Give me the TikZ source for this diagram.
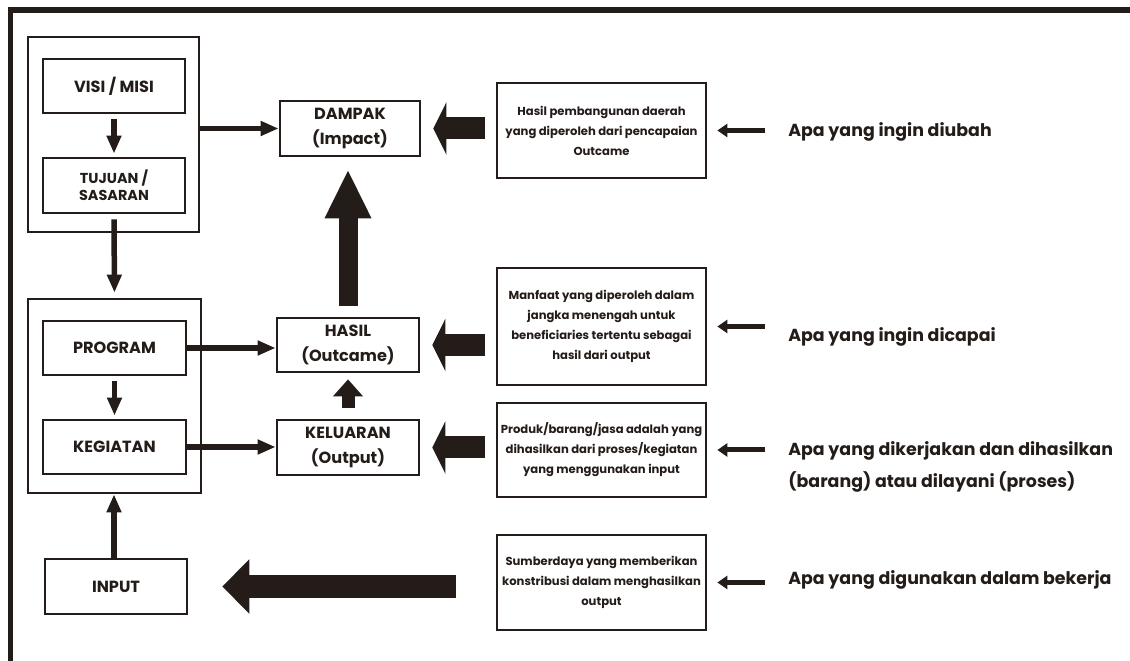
\documentclass[tikz,border=0pt]{standalone}
\usepackage{fontspec}
\setmainfont{Poppins}
\usetikzlibrary{arrows.meta}

\definecolor{ink}{RGB}{35,28,25}

\begin{document}
\begin{tikzpicture}[x=0.02cm, y=-0.02cm,
    box/.style={draw=ink, line width=0.055cm, align=center, inner sep=0pt, text=ink},
    label/.style={font=\fontsize{9.2}{14.2}\selectfont\bfseries},
    small/.style={font=\fontsize{6.6}{11.4}\selectfont\bfseries},
    note/.style={anchor=west, inner sep=0pt, align=left, text=ink,
                 font=\fontsize{9.9}{18}\selectfont\bfseries},
    thin/.style={draw=ink, line width=0.11cm, -{Triangle[length=0.36cm, width=0.28cm]}},
    tiny/.style={draw=ink, line width=0.1cm, -{Triangle[length=0.2cm, width=0.26cm]}},
    fat/.style={draw=ink, line width=0.44cm, -{Triangle[length=0.26cm, width=1.04cm]}}
  ]
  \useasboundingbox (0,0) rectangle (1130,661);

  % 1. Bingkai
  \draw[ink, line width=0.11cm] (1130,10) -- (10.5,10) -- (10.5,661);

  % 2. Kolom kiri
  \node[box, minimum width=3.42cm, minimum height=3.9cm] (grp1) at (113.5,134.5) {};
  \node[box, label, minimum width=2.84cm, minimum height=1.08cm] (visi) at (114,86) {VISI / MISI};
  \node[box, font=\fontsize{8.2}{9.8}\selectfont\bfseries, minimum width=2.84cm, minimum height=1.1cm] (tujuan) at (114,185.5) {TUJUAN /\\SASARAN};
  \node[box, minimum width=3.46cm, minimum height=3.88cm] (grp2) at (114.5,396) {};
  \node[box, label, minimum width=2.86cm, minimum height=1.08cm] (program) at (114.5,348) {PROGRAM};
  \node[box, label, minimum width=2.86cm, minimum height=1.08cm] (kegiatan) at (114.5,447) {KEGIATAN};
  \node[box, label, minimum width=2.84cm, minimum height=1.1cm] (input) at (116,586.5) {INPUT};

  % 3. Kolom tengah
  \node[box, label, minimum width=2.8cm, minimum height=1.1cm] (dampak) at (350,128.5) {DAMPAK\\(Impact)};
  \node[box, label, minimum width=2.84cm, minimum height=1.08cm] (hasil) at (348,345) {HASIL\\(Outcame)};
  \node[box, label, minimum width=2.84cm, minimum height=1.1cm] (keluaran) at (348,447.5) {KELUARAN\\(Output)};

  % 4. Keterangan
  \node[box, small, minimum width=4.18cm, minimum height=1.9cm] (d1) at (601.5,130.5)
    {Hasil pembangunan daerah\\yang diperoleh dari pencapaian\\Outcame};
  \node[box, small, minimum width=4.18cm, minimum height=2.34cm] (d2) at (601.5,326.5)
    {Manfaat yang diperoleh dalam\\jangka menengah untuk\\beneficiaries tertentu sebagai\\hasil dari output};
  \node[box, small, minimum width=4.18cm, minimum height=1.88cm] (d3) at (601.5,450)
    {Produk/barang/jasa adalah yang\\dihasilkan dari proses/kegiatan\\yang menggunakan input};
  \node[box, small, minimum width=4.18cm, minimum height=1.9cm] (d4) at (601.5,582.5)
    {Sumberdaya yang memberikan\\konstribusi dalam menghasilkan\\output};

  \node[note] (t1) at (788,132) {Apa yang ingin diubah};
  \node[note] (t2) at (788,337) {Apa yang ingin dicapai};
  \node[note] (t3) at (788,467) {Apa yang dikerjakan dan dihasilkan\\(barang) atau dilayani (proses)};
  \node[note] (t4) at (788,580) {Apa yang digunakan dalam bekerja};

  % 5. Panah
  \draw[thin, shorten <=0.1cm, shorten >=0.06cm] (visi.south) -- (tujuan.north);
  \draw[thin, shorten <=0.1cm, shorten >=0.1cm] (tujuan.south) -- (grp2.north);
  \draw[thin, shorten <=0.1cm, shorten >=0.06cm] (program.south) -- (kegiatan.north);
  \draw[thin] (grp1.east |- dampak.west) -- (dampak.west);
  \draw[thin] (program.east) -- (program.east -| hasil.west);
  \draw[thin] (kegiatan.east) -- (kegiatan.east -| keluaran.west);
  \draw[thin] (input.north -| visi.south) -- (grp2.south -| visi.south);

  \foreach \d/\c in {d1/dampak, d2/hasil, d3/keluaran}
    \draw[fat, shorten <=0.22cm, shorten >=0.24cm] (\c.east -| \d.west) -- (\c.east);

  \draw[draw=ink, line width=0.46cm, -{Triangle[length=0.54cm, width=1.06cm]},
        shorten <=0.8cm, shorten >=0.68cm] (input.east -| d4.west) -- (input.east);
  \draw[draw=ink, line width=0.38cm, -{Triangle[length=0.98cm, width=0.86cm]},
        shorten <=0.22cm, shorten >=0.24cm] (hasil.north) -- (hasil.north |- dampak.south);
  \draw[draw=ink, line width=0.26cm, -{Triangle[length=0.34cm, width=0.58cm]},
        shorten <=0.22cm, shorten >=0.12cm] (keluaran.north) -- (hasil.south);

  \foreach \t/\d in {t1/d1, t2/d2, t3/d3, t4/d4}
    \draw[tiny, shorten <=0.46cm, shorten >=0.2cm] (\d.east -| \t.west) -- (\d.east);
\end{tikzpicture}
\end{document}
